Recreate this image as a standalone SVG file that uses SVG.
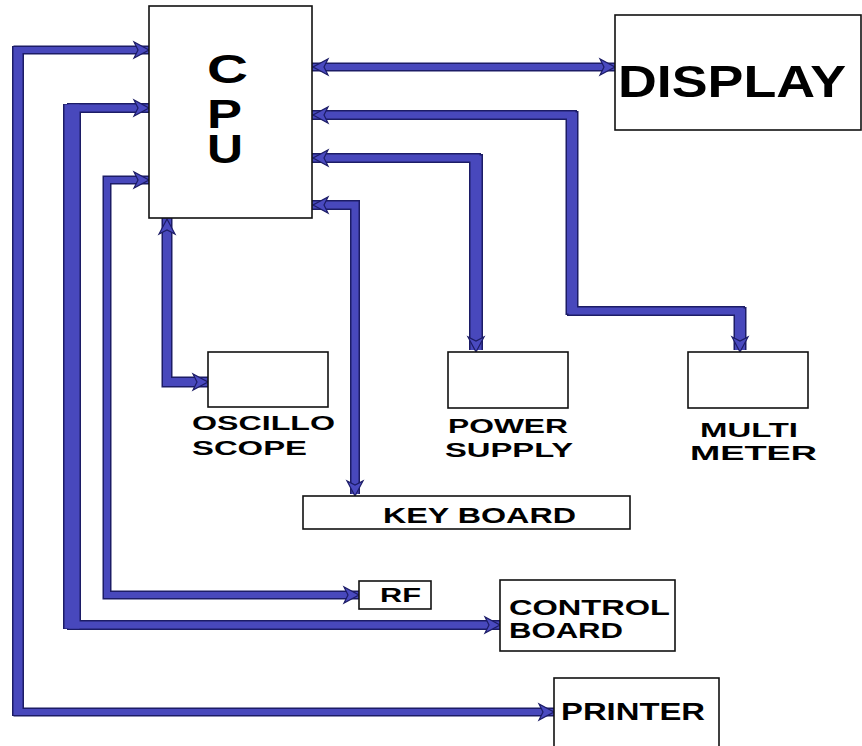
<svg xmlns="http://www.w3.org/2000/svg" width="862" height="746" viewBox="0 0 862 746">
<style>
.box{fill:#fff;stroke:#111;stroke-width:1.6}
.t{font-family:"Liberation Sans",Arial,sans-serif;font-weight:bold;fill:#000}
.o{fill:none;stroke:#1c1c66;stroke-linejoin:miter}
.b{fill:none;stroke:#4848bc;stroke-linejoin:miter}
.ah{fill:#4a4ac0;stroke:#1c1c66;stroke-width:1.2;stroke-linejoin:miter}
</style>
<defs>
<path id="ah" class="ah" d="M0,0 L-15,-8 L-11,0 L-15,8 Z"/>
</defs>
<rect width="862" height="746" fill="#fff"/>
<g id="connectors">
  <!-- outlines -->
  <path class="o" stroke-width="9" d="M312,67 H615"/>
  <path class="o" stroke-width="10" d="M312,115 H572 V311 H740 V350"/>
  <path class="o" stroke-width="13" d="M572,111 V315 M740,307 V350"/>
  <path class="o" stroke-width="10" d="M312,158 H476 V350"/>
  <path class="o" stroke-width="14" d="M476,154 V350"/>
  <path class="o" stroke-width="10" d="M312,205 H355 V494"/>
  <path class="o" stroke-width="11" d="M167,218 V382 H208"/>
  <path class="o" stroke-width="9" d="M149,180 H107 V595 H359"/>
  <path class="o" stroke-width="10" d="M149,108 H72 V625 H500"/>
  <path class="o" stroke-width="18" d="M72,104 V629"/>
  <path class="o" stroke-width="9" d="M149,50 H18 V712 H554"/>
  <path class="o" stroke-width="12" d="M18,46 V716"/>
  <!-- fills -->
  <path class="b" stroke-width="6" d="M312,67 H615"/>
  <path class="b" stroke-width="7" d="M312,115 H572 V311 H740 V350"/>
  <path class="b" stroke-width="10" d="M572,112.5 V313.5 M740,308.5 V350"/>
  <path class="b" stroke-width="7" d="M312,158 H476 V350"/>
  <path class="b" stroke-width="11" d="M476,155.5 V350"/>
  <path class="b" stroke-width="7" d="M312,205 H355 V494"/>
  <path class="b" stroke-width="8" d="M167,218 V382 H208"/>
  <path class="b" stroke-width="6" d="M149,180 H107 V595 H359"/>
  <path class="b" stroke-width="7" d="M149,108 H72 V625 H500"/>
  <path class="b" stroke-width="15" d="M72,104.5 V628.5"/>
  <path class="b" stroke-width="6" d="M149,50 H18 V712 H554"/>
  <path class="b" stroke-width="9" d="M18,47 V715"/>
  <!-- arrowheads -->
  <use href="#ah" transform="translate(313,67) rotate(180)"/>
  <use href="#ah" transform="translate(615,67)"/>
  <use href="#ah" transform="translate(313,115) rotate(180)"/>
  <use href="#ah" transform="translate(740,352) rotate(90)"/>
  <use href="#ah" transform="translate(313,158) rotate(180)"/>
  <use href="#ah" transform="translate(476,352) rotate(90)"/>
  <use href="#ah" transform="translate(313,205) rotate(180)"/>
  <use href="#ah" transform="translate(355,496) rotate(90)"/>
  <use href="#ah" transform="translate(167,219) rotate(-90)"/>
  <use href="#ah" transform="translate(208,382)"/>
  <use href="#ah" transform="translate(149,180)"/>
  <use href="#ah" transform="translate(359,595)"/>
  <use href="#ah" transform="translate(149,108)"/>
  <use href="#ah" transform="translate(500,625)"/>
  <use href="#ah" transform="translate(149,50)"/>
  <use href="#ah" transform="translate(554,712)"/>
</g>
<g id="cpu">
  <rect class="box" x="149" y="6" width="163" height="212"/>
  <text class="t" x="207" y="83" font-size="40" textLength="41" lengthAdjust="spacingAndGlyphs">C</text>
  <text class="t" x="207" y="128" font-size="40" textLength="35" lengthAdjust="spacingAndGlyphs">P</text>
  <text class="t" x="207" y="163" font-size="40" textLength="36" lengthAdjust="spacingAndGlyphs">U</text>
</g>
<g id="display">
  <rect class="box" x="615" y="15" width="246" height="115"/>
  <text class="t" x="618" y="97" font-size="44" textLength="228" lengthAdjust="spacingAndGlyphs">DISPLAY</text>
</g>
<g id="oscilloscope">
  <rect class="box" x="208" y="352" width="120" height="55"/>
  <text class="t" x="192" y="430" font-size="21" textLength="143" lengthAdjust="spacingAndGlyphs">OSCILLO</text>
  <text class="t" x="192" y="455" font-size="21" textLength="115" lengthAdjust="spacingAndGlyphs">SCOPE</text>
</g>
<g id="power-supply">
  <rect class="box" x="448" y="352" width="120" height="56"/>
  <text class="t" x="448" y="433" font-size="21" textLength="120" lengthAdjust="spacingAndGlyphs">POWER</text>
  <text class="t" x="445" y="457" font-size="21" textLength="128" lengthAdjust="spacingAndGlyphs">SUPPLY</text>
</g>
<g id="multimeter">
  <rect class="box" x="688" y="352" width="120" height="56"/>
  <text class="t" x="700" y="437" font-size="21" textLength="98" lengthAdjust="spacingAndGlyphs">MULTI</text>
  <text class="t" x="690" y="460" font-size="21" textLength="127" lengthAdjust="spacingAndGlyphs">METER</text>
</g>
<g id="keyboard">
  <rect class="box" x="303" y="496" width="327" height="33"/>
  <text class="t" x="383" y="523" font-size="22" textLength="193" lengthAdjust="spacingAndGlyphs">KEY BOARD</text>
</g>
<g id="rf">
  <rect class="box" x="359" y="581" width="72" height="28"/>
  <text class="t" x="380" y="602" font-size="21" textLength="41" lengthAdjust="spacingAndGlyphs">RF</text>
</g>
<g id="control-board">
  <rect class="box" x="500" y="580" width="175" height="71"/>
  <text class="t" x="509" y="615" font-size="22" textLength="161" lengthAdjust="spacingAndGlyphs">CONTROL</text>
  <text class="t" x="509" y="638" font-size="22" textLength="114" lengthAdjust="spacingAndGlyphs">BOARD</text>
</g>
<g id="printer">
  <rect class="box" x="554" y="678" width="165" height="70"/>
  <text class="t" x="561" y="720" font-size="24" textLength="144" lengthAdjust="spacingAndGlyphs">PRINTER</text>
</g>
</svg>
